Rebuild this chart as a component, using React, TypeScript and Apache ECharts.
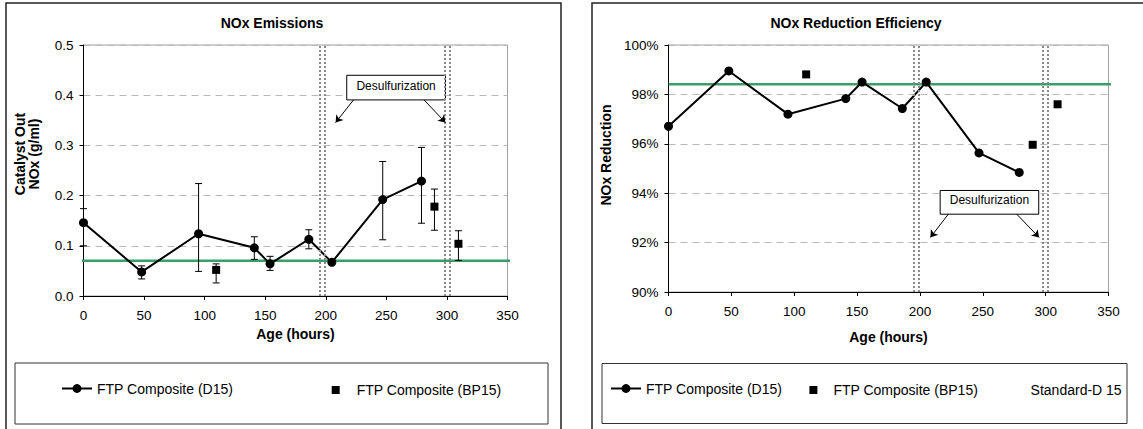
import React, { useEffect, useRef } from 'react';
import * as echarts from 'echarts';

const FONT = '"Liberation Sans", Arial, Helvetica, sans-serif';
const GREEN = '#3a9d6a';

// ---- data ----
const ageD15 = [0, 48, 95, 141, 154, 186, 205, 247, 279];
const noxD15 = [0.146, 0.048, 0.124, 0.096, 0.064, 0.113, 0.067, 0.192, 0.229];
const noxD15Low = [0.1, 0.034, 0.049, 0.073, 0.051, 0.094, null, 0.112, 0.145];
const noxD15High = [0.174, 0.06, 0.224, 0.118, 0.079, 0.132, null, 0.268, 0.296];
const ageBP15 = [109.5, 289.7, 309.5];
const noxBP15 = [0.052, 0.178, 0.104];
const noxBP15Low = [0.026, 0.131, 0.071];
const noxBP15High = [0.064, 0.213, 0.13];
const effD15 = [96.71, 98.95, 97.2, 97.83, 98.5, 97.43, 98.5, 95.63, 94.84];
const effBP15 = [98.81, 95.96, 97.6];
const noxStandard = 0.07;
const effStandard = 98.41;
const noxStdAges = [-3.3, 355];
const effStdAges = [0, 355];
const desulfAges = [195, 199, 298, 302];
const desulfLabel = 'Desulfurization';
const desulfBoxNox = [[217.3, 0.4397], [298.8, 0.3906]];
const desulfArrowsNox = [
  [[222.9, 0.3906], [208.1, 0.3455]],
  [[281.1, 0.3906], [298.8, 0.3455]],
];
const desulfBoxEff = [[216.1, 94.11], [294.5, 93.15]];
const desulfArrowsEff = [
  [[222.6, 93.15], [208.3, 92.21]],
  [[277.0, 93.15], [294.8, 92.21]],
];
const ageRange = { min: 0, max: 350, interval: 50 };
const noxRange = { min: 0, max: 0.5, interval: 0.1 };
const effRange = { min: 90, max: 100, interval: 2 };
const titles = ['NOx Emissions', 'NOx Reduction Efficiency'];
const xName = 'Age (hours)';
const noxName = 'Catalyst Out\nNOx (g/ml)';
const effName = 'NOx Reduction';
const nameD15 = 'FTP Composite (D15)';
const nameBP15 = 'FTP Composite (BP15)';
const nameStd = 'Standard-D 15';

const txt = { color: '#000', fontFamily: FONT };

function errorRenderItem(params: any, api: any) {
  const x = api.value(0);
  const lo = api.coord([x, api.value(1)]);
  const hi = api.coord([x, api.value(2)]);
  const hw = 3.5;
  const st = { stroke: '#000', lineWidth: 1 };
  return {
    type: 'group',
    children: [
      { type: 'line', shape: { x1: lo[0], y1: lo[1], x2: hi[0], y2: hi[1] }, style: st },
      { type: 'line', shape: { x1: lo[0] - hw, y1: lo[1], x2: lo[0] + hw, y2: lo[1] }, style: st },
      { type: 'line', shape: { x1: hi[0] - hw, y1: hi[1], x2: hi[0] + hw, y2: hi[1] }, style: st },
    ],
  };
}

function errData(ages: number[], lows: (number | null)[], highs: (number | null)[]) {
  const out: number[][] = [];
  ages.forEach((a, i) => {
    if (lows[i] != null && highs[i] != null) out.push([a, lows[i] as number, highs[i] as number]);
  });
  return out;
}

function xAxis(gridIndex: number, nameGap: number) {
  return {
    gridIndex,
    type: 'value',
    ...ageRange,
    axisLine: { show: true, onZero: false, lineStyle: { color: '#000', width: 1 } },
    axisTick: { show: true, length: 4, lineStyle: { color: '#000' } },
    axisLabel: { ...txt, fontSize: 13.5, margin: 12 },
    splitLine: { show: false },
    name: xName,
    nameLocation: 'middle',
    nameGap,
    nameTextStyle: { ...txt, fontSize: 14, fontWeight: 'bold' },
  };
}

function yAxis(gridIndex: number, range: any, name: string, nameGap: number, padL: number, fmt: (v: number) => string) {
  return {
    gridIndex,
    type: 'value',
    ...range,
    axisLine: { show: true, lineStyle: { color: '#000', width: 1 } },
    axisTick: { show: true, length: 4, lineStyle: { color: '#000' } },
    axisLabel: { ...txt, fontSize: 13.5, margin: 10, formatter: fmt },
    splitLine: { show: true, lineStyle: { color: '#b8b8b8', width: 1, type: [7, 5] } },
    name,
    nameLocation: 'middle',
    nameGap,
    nameTextStyle: { ...txt, fontSize: 14, fontWeight: 'bold', lineHeight: 14, padding: [0, 0, 0, padL] },
  };
}

function vLines() {
  return {
    silent: true,
    symbol: 'none',
    label: { show: false },
    lineStyle: { color: '#8a8a8a', width: 2, type: [2, 2] },
    emphasis: { disabled: true },
    data: desulfAges.map((a) => ({ xAxis: a })),
  };
}

function arrows(list: number[][][]) {
  return {
    silent: true,
    symbol: ['none', 'arrow'],
    symbolSize: 7,
    label: { show: false },
    lineStyle: { color: '#000', width: 1, type: 'solid' },
    emphasis: { disabled: true },
    data: list.map((seg) => [{ coord: seg[0] }, { coord: seg[1] }]),
  };
}

function box(b: number[][]) {
  return {
    silent: true,
    itemStyle: { color: '#fff', borderColor: '#000', borderWidth: 1, opacity: 1 },
    label: { show: true, position: 'inside', ...txt, fontSize: 12, offset: [0, -2] },
    emphasis: { disabled: true },
    data: [[{ name: desulfLabel, coord: b[0] }, { coord: b[1] }]],
  };
}

function buildOption() {
  const LY = 387;
  const lg = (data: any[], left: number, itemWidth: number, itemHeight: number, padL = 0) => ({
    data,
    left,
    top: LY - itemHeight / 2,
    orient: 'horizontal',
    itemWidth,
    itemHeight,
    padding: 0,
    selectedMode: false,
    textStyle: { ...txt, fontSize: 14, padding: [0, 0, 0, padL] },
  });
  const sq = { name: nameBP15, icon: 'rect', itemStyle: { color: '#000', opacity: 1 } };
  return {
    animation: false,
    backgroundColor: '#fff',
    title: [
      { text: titles[0], left: 272, top: 16, textAlign: 'center', padding: 0, textStyle: { ...txt, fontSize: 14, fontWeight: 'bold' } },
      { text: titles[1], left: 856, top: 16, textAlign: 'center', padding: 0, textStyle: { ...txt, fontSize: 14, fontWeight: 'bold' } },
    ],
    grid: [
      { left: 83.5, top: 45, width: 424, height: 251, show: true, borderColor: '#a0a0a0', borderWidth: 1, backgroundColor: '#fff' },
      { left: 668.5, top: 45, width: 440, height: 247, show: true, borderColor: '#a0a0a0', borderWidth: 1, backgroundColor: '#fff' },
    ],
    xAxis: [xAxis(0, 29), xAxis(1, 38)],
    yAxis: [
      yAxis(0, noxRange, noxName, 43, 33, (v: number) => v.toFixed(1)),
      yAxis(1, effRange, effName, 56, 27, (v: number) => v + '%'),
    ],
    legend: [
      lg([nameD15], 61, 30, 11),
      lg([sq], 331.7, 8, 8, 12),
      lg([nameD15], 610, 30, 11),
      lg([sq], 809.4, 8, 8, 11),
      lg([{ name: nameStd, icon: 'rect', itemStyle: { color: 'rgba(0,0,0,0)', opacity: 0 } }], 1015.6, 10, 8),
    ],
    graphic: [
      { type: 'rect', z: -10, shape: { x: 6, y: 3, width: 555, height: 440 }, style: { fill: 'none', stroke: '#222', lineWidth: 1.5 }, silent: true },
      { type: 'rect', z: -10, shape: { x: 592, y: 3, width: 570, height: 440 }, style: { fill: 'none', stroke: '#222', lineWidth: 1.5 }, silent: true },
      { type: 'rect', z: -10, shape: { x: 15, y: 363, width: 533, height: 61 }, style: { fill: 'none', stroke: '#333', lineWidth: 1 }, silent: true },
      { type: 'rect', z: -10, shape: { x: 602, y: 363.5, width: 525, height: 60 }, style: { fill: 'none', stroke: '#333', lineWidth: 1 }, silent: true },
    ],
    series: [
      {
        name: nameStd,
        type: 'line',
        xAxisIndex: 0,
        yAxisIndex: 0,
        data: noxStdAges.map((a) => [a, noxStandard]),
        symbol: 'none',
        clip: false,
        lineStyle: { color: GREEN, width: 2.5 },
        itemStyle: { color: GREEN },
        z: 2,
        markLine: vLines(),
      },
      {
        name: 'NOx D15 error',
        type: 'custom',
        xAxisIndex: 0,
        yAxisIndex: 0,
        renderItem: errorRenderItem,
        encode: { x: 0, y: [1, 2] },
        data: errData(ageD15, noxD15Low, noxD15High),
        z: 3,
        silent: true,
      },
      {
        name: 'NOx BP15 error',
        type: 'custom',
        xAxisIndex: 0,
        yAxisIndex: 0,
        renderItem: errorRenderItem,
        encode: { x: 0, y: [1, 2] },
        data: errData(ageBP15, noxBP15Low, noxBP15High),
        z: 3,
        silent: true,
      },
      {
        name: nameD15,
        type: 'line',
        xAxisIndex: 0,
        yAxisIndex: 0,
        data: ageD15.map((a, i) => [a, noxD15[i]]),
        symbol: 'circle',
        symbolSize: 9,
        lineStyle: { color: '#000', width: 2 },
        itemStyle: { color: '#000', opacity: 1 },
        z: 4,
      },
      {
        name: nameBP15,
        type: 'scatter',
        xAxisIndex: 0,
        yAxisIndex: 0,
        data: ageBP15.map((a, i) => [a, noxBP15[i]]),
        symbol: 'rect',
        symbolSize: 8,
        itemStyle: { color: '#000', opacity: 1 },
        z: 4,
        markLine: arrows(desulfArrowsNox),
        markArea: box(desulfBoxNox),
      },
      {
        name: nameStd,
        type: 'line',
        xAxisIndex: 1,
        yAxisIndex: 1,
        data: effStdAges.map((a) => [a, effStandard]),
        symbol: 'none',
        clip: false,
        lineStyle: { color: GREEN, width: 2.5 },
        itemStyle: { color: GREEN },
        z: 2,
        markLine: vLines(),
      },
      {
        name: nameD15,
        type: 'line',
        xAxisIndex: 1,
        yAxisIndex: 1,
        data: ageD15.map((a, i) => [a, effD15[i]]),
        symbol: 'circle',
        symbolSize: 9,
        lineStyle: { color: '#000', width: 2 },
        itemStyle: { color: '#000', opacity: 1 },
        z: 4,
      },
      {
        name: nameBP15,
        type: 'scatter',
        xAxisIndex: 1,
        yAxisIndex: 1,
        data: ageBP15.map((a, i) => [a, effBP15[i]]),
        symbol: 'rect',
        symbolSize: 8,
        itemStyle: { color: '#000', opacity: 1 },
        z: 4,
        markLine: arrows(desulfArrowsEff),
        markArea: box(desulfBoxEff),
      },
    ],
  };
}

export default function App() {
  const ref = useRef<HTMLDivElement>(null);
  useEffect(() => {
    if (!ref.current) return;
    const chart = echarts.init(ref.current, null, { renderer: 'svg' });
    chart.setOption(buildOption() as any);
    return () => chart.dispose();
  }, []);
  return (
    <div
      ref={ref}
      style={{ position: 'absolute', left: 0, top: 0, width: 1143, height: 429, background: '#fff' }}
    />
  );
}
